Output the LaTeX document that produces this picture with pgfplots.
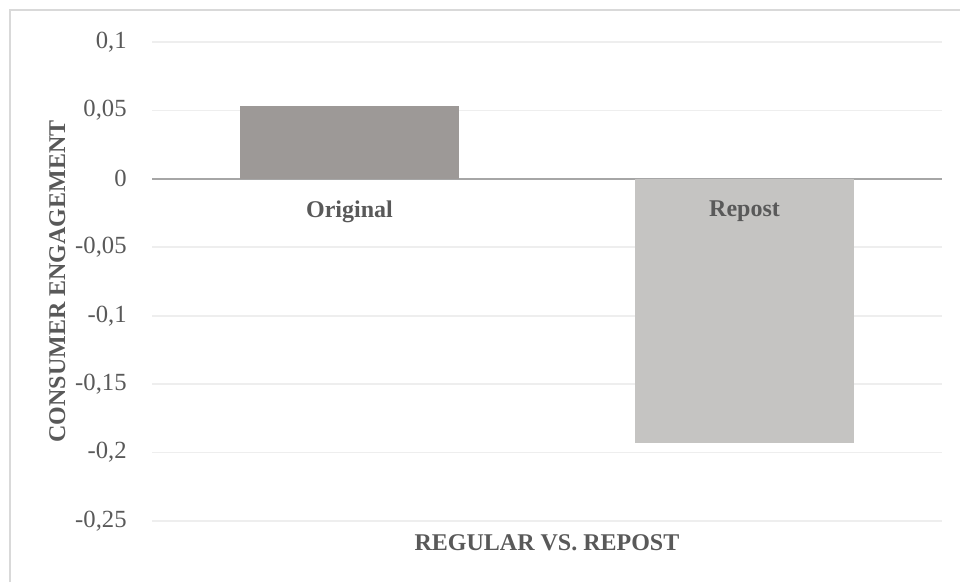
\documentclass[border=0pt]{standalone}
\usepackage{pgfplots}
\pgfplotsset{compat=1.18}
\usepackage{fontspec}
\setmainfont{Liberation Serif}
\definecolor{txt}{HTML}{595959}
\definecolor{gridc}{HTML}{EEEEEE}
\definecolor{zeroc}{HTML}{A6A6A6}
\definecolor{barA}{HTML}{9D9997}
\definecolor{barB}{HTML}{C5C4C2}
\definecolor{framec}{HTML}{D9D9D9}
\begin{document}
\begin{tikzpicture}[x=0.75pt,y=0.75pt]
\useasboundingbox (0,0) rectangle (960,582);
\draw[framec, line width=2.2pt] (10,0) -- (10,572) -- (960,572);
\begin{axis}[
  at={(152*0.75pt,61*0.75pt)}, anchor=south west,
  scale only axis, width=592.5pt, height=359.25pt,
  xmin=-0.5, xmax=1.5, ymin=-0.25, ymax=0.1,
  axis line style={draw=none},
  xtick=\empty,
  ytick={-0.25,-0.2,-0.15,-0.1,-0.05,0,0.05,0.1},
  yticklabels={{-0,25},{-0,2},{-0,15},{-0,1},{-0,05},{0},{0,05},{0,1}},
  extra y ticks={0}, extra y tick labels={},
  extra y tick style={grid style={zeroc, line width=1.6pt}},
  major tick length=0pt,
  ymajorgrids, grid style={gridc, line width=1.2pt},
  yticklabel style={font=\fontsize{18.5}{20}\selectfont, text=txt, xshift=-15.5pt},
  every axis y label/.style={at={(axis description cs:0,0.5)}, xshift=-71pt, rotate=90, anchor=center, font=\bfseries\fontsize{18}{20}\selectfont, text=txt},
  every axis x label/.style={at={(axis description cs:0.5,0)}, yshift=-16.5pt, anchor=center, font=\bfseries\fontsize{18}{20}\selectfont, text=txt},
  ylabel={CONSUMER ENGAGEMENT},
  xlabel={REGULAR VS. REPOST},
  clip=false,
]
\addplot[ybar, bar width=0.556, fill=barA, draw=none, bar shift=0] coordinates {(0,0.053)};
\addplot[ybar, bar width=0.552, fill=barB, draw=none, bar shift=0] coordinates {(1,-0.193)};
\node[anchor=north, font=\bfseries\fontsize{18}{20}\selectfont, text=txt, yshift=-13pt] at (axis cs:0,0) {Original};
\node[anchor=north, font=\bfseries\fontsize{18}{20}\selectfont, text=txt, yshift=-13pt] at (axis cs:1,0) {Repost};
\end{axis}
\end{tikzpicture}
\end{document}
